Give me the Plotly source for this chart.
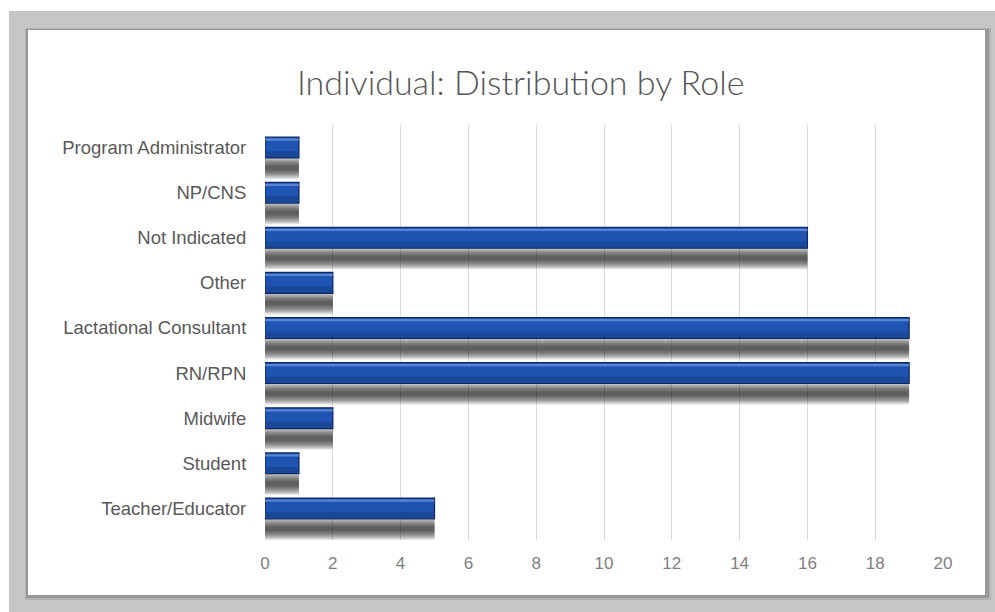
import plotly.graph_objects as go

# Roles (top to bottom) and the number of individuals in each
roles = [
    "Program Administrator",
    "NP/CNS",
    "Not Indicated",
    "Other",
    "Lactational Consultant",
    "RN/RPN",
    "Midwife",
    "Student",
    "Teacher/Educator",
]
counts = [1, 1, 16, 2, 19, 19, 2, 1, 5]
x_ticks = [0, 2, 4, 6, 8, 10, 12, 14, 16, 18, 20]

W, H = 995, 612
L, R, T, B = 265, 52, 125, 72
PW, PH = W - L - R, H - T - B


def px(p):
    return (p - L) / PW


def py(p):
    return (H - B - p) / PH


fig = go.Figure()

# soft drop shadow under each bar: nested translucent bands centred below the bar
shadow_centre = 0.45
n_layers = 12
for i in range(n_layers):
    half = 0.25 - i * 0.019
    fig.add_trace(go.Bar(
        y=roles, x=counts, orientation="h",
        offset=shadow_centre - half, width=2 * half,
        marker=dict(color="#2a2a2a", opacity=0.1, line=dict(width=0)),
        hoverinfo="skip", showlegend=False,
    ))

# main bars
fig.add_trace(go.Bar(
    y=roles, x=counts, orientation="h",
    offset=-0.23, width=0.46,
    marker=dict(color="#1f54b3", line=dict(color="#0d2862", width=1.3)),
    showlegend=False,
))
# darker lower band for a rounded look
fig.add_trace(go.Bar(
    y=roles, x=counts, orientation="h",
    offset=0.08, width=0.13,
    marker=dict(color="#17438f", opacity=0.7, line=dict(width=0)),
    hoverinfo="skip", showlegend=False,
))
# light highlight along the top edge
fig.add_trace(go.Bar(
    y=roles, x=counts, orientation="h",
    offset=-0.2, width=0.05,
    marker=dict(color="#6f9be0", opacity=0.7, line=dict(width=0)),
    hoverinfo="skip", showlegend=False,
))

shapes = [
    # grey surround
    dict(type="rect", xref="paper", yref="paper", x0=px(9), x1=px(W + 2), y0=py(11), y1=py(H + 2),
         fillcolor="#c6c6c6", line=dict(width=0), layer="below"),
    # panel shadow
    dict(type="rect", xref="paper", yref="paper", x0=px(25), x1=px(991), y0=py(28), y1=py(600),
         fillcolor="#b2b2b2", line=dict(width=0), layer="below"),
    dict(type="rect", xref="paper", yref="paper", x0=px(26), x1=px(989), y0=py(29), y1=py(598),
         fillcolor="#989898", line=dict(width=0), layer="below"),
    # white chart panel
    dict(type="rect", xref="paper", yref="paper", x0=px(28), x1=px(985), y0=py(30), y1=py(595),
         fillcolor="#ffffff", line=dict(width=0), layer="below"),
]

fig.update_layout(
    width=W, height=H,
    margin=dict(l=L, r=R, t=T, b=B, pad=0),
    paper_bgcolor="#ffffff",
    plot_bgcolor="rgba(0,0,0,0)",
    barmode="overlay",
    shapes=shapes,
    font=dict(family="Liberation Sans, Arial, sans-serif", color="#595959"),
    annotations=[dict(
        text="Individual: Distribution by Role",
        xref="paper", yref="paper", x=px(520), y=py(82),
        xanchor="center", yanchor="middle", showarrow=False,
        font=dict(family="Lato, sans-serif", size=34, weight=300, color="#555555"),
    )],
    xaxis=dict(
        range=[0, 20], tickvals=x_ticks, ticktext=[str(v) for v in x_ticks],
        showgrid=True, gridcolor="#dadada", gridwidth=1,
        zeroline=False, showline=False,
        ticks="outside", ticklen=8, tickcolor="rgba(0,0,0,0)",
        tickfont=dict(size=17, color="#7f7f7f"),
    ),
    yaxis=dict(
        categoryorder="array", categoryarray=roles, autorange="reversed",
        showgrid=False, zeroline=False, showline=False,
        ticks="outside", ticklen=14, tickcolor="rgba(0,0,0,0)",
        tickfont=dict(size=18.5, color="#595959"),
    ),
)

fig.write_html("out.html")
